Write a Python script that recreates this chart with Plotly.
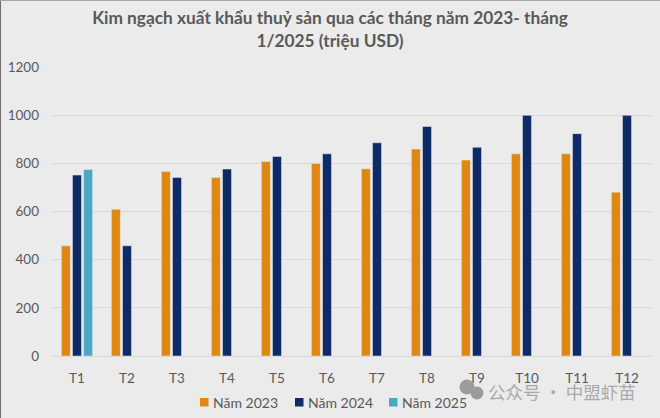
import plotly.graph_objects as go

thang = ["T1", "T2", "T3", "T4", "T5", "T6", "T7", "T8", "T9", "T10", "T11", "T12"]
nam_2023 = [458, 610, 767, 742, 808, 800, 778, 860, 814, 840, 840, 681]
nam_2024 = [752, 458, 742, 777, 829, 840, 886, 954, 867, 1000, 924, 1000]
nam_2025 = [775]
thang_2025 = ["T1"]
y_ticks = [0, 200, 400, 600, 800, 1000, 1200]

W, H = 660, 418
L, R, T, B = 52, 8, 67, 62
PW, PH = W - L - R, H - T - B
FONT = "Lato"
GREY = "#595959"
ORANGE, NAVY, TEAL = "#DF8713", "#0E2A67", "#4CA7C5"


def px_x(x):
    return (x - L) / PW


def px_y(y):
    return (H - B - y) / PH


fig = go.Figure()
fig.add_bar(x=thang, y=nam_2023, name="Năm 2023", marker_color=ORANGE)
fig.add_bar(x=thang, y=nam_2024, name="Năm 2024", marker_color=NAVY)
fig.add_bar(x=thang_2025, y=nam_2025, name="Năm 2025", marker_color=TEAL)

fig.update_layout(
    width=W,
    height=H,
    autosize=False,
    paper_bgcolor="#EBEBEB",
    plot_bgcolor="#EBEBEB",
    barmode="group",
    bargap=0.333,
    bargroupgap=0.19,
    margin=dict(l=L, r=R, t=T, b=B, pad=0, autoexpand=False),
    font=dict(family=FONT, size=13.5, color=GREY),
    title=dict(
        text="<b>Kim ngạch xuất khẩu thuỷ sản qua các tháng năm 2023- tháng<br>1/2025 (triệu USD)</b>",
        x=0.5,
        xanchor="center",
        y=0.942,
        yanchor="top",
        font=dict(family=FONT, size=17.3, color=GREY),
    ),
    showlegend=False,
)
fig.update_xaxes(
    categoryorder="array",
    categoryarray=thang,
    showgrid=False,
    showline=True,
    linecolor="#D9D9D9",
    linewidth=1,
    ticks="",
    ticklabelstandoff=10,
    automargin=False,
)
fig.update_yaxes(
    range=[0, 1201],
    tickvals=y_ticks,
    showgrid=True,
    gridcolor="#D9D9D9",
    gridwidth=1,
    zeroline=False,
    showline=False,
    ticks="",
    ticklabelstandoff=12,
    automargin=False,
)

# legend drawn by hand: plotly's own puts the swatch too far from the text
for name, color, swatch_x in [("Năm 2023", ORANGE, 200), ("Năm 2024", NAVY, 295), ("Năm 2025", TEAL, 389)]:
    fig.add_shape(
        type="rect", xref="paper", yref="paper",
        x0=px_x(swatch_x), x1=px_x(swatch_x + 8.5),
        y0=px_y(406.5), y1=px_y(398),
        fillcolor=color, line_width=0,
    )
    fig.add_annotation(
        text=name, xref="paper", yref="paper",
        x=px_x(swatch_x + 11), y=px_y(402),
        xanchor="left", yanchor="middle",
        showarrow=False,
        font=dict(family=FONT, size=14, color=GREY),
    )

# watermark from the repost, bottom right
fig.add_annotation(
    text="公众号 · 中盟虾苗",
    xref="paper", yref="paper",
    x=px_x(638), y=px_y(391.5),
    xanchor="right", yanchor="middle",
    showarrow=False,
    font=dict(family="Noto Sans CJK SC", size=17.5, color="#A9A9A9"),
)
for cx, cy, r in [(467, 387, 7.5), (477, 393, 6.5)]:
    fig.add_shape(
        type="circle", xref="paper", yref="paper",
        x0=px_x(cx - r), x1=px_x(cx + r),
        y0=px_y(cy + r), y1=px_y(cy - r),
        fillcolor="#9C9C9C", line_width=0,
    )

# dark edge of the screenshot along top and left
fig.add_shape(type="line", xref="paper", yref="paper",
              x0=px_x(0), x1=px_x(0), y0=px_y(H), y1=px_y(0),
              line=dict(color="#6E6E6E", width=2))
fig.add_shape(type="line", xref="paper", yref="paper",
              x0=px_x(0), x1=px_x(W), y0=px_y(0), y1=px_y(0),
              line=dict(color="#A8A8A8", width=2))

# drop the browser's default body margin so the figure fills the window
fig.write_html("out.html", config={"displayModeBar": False},
               post_script="document.body.style.margin='0';")
